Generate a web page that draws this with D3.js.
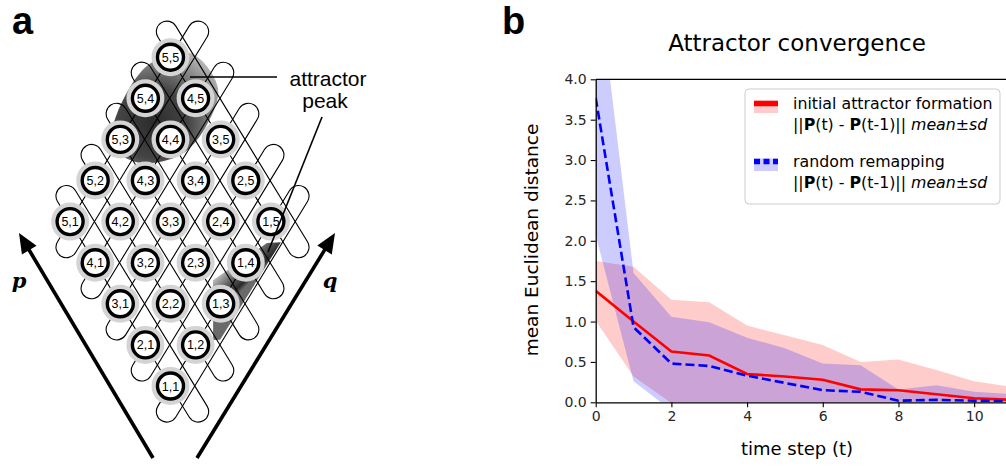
<!DOCTYPE html>
<html><head><meta charset="utf-8">
<script src="https://cdn.jsdelivr.net/npm/d3@7"></script>
<style>
  body { margin: 0; background: #fff; }
  svg { display: block; }
</style>
</head><body>
<svg id="fig" width="1006" height="466"></svg>
<script>
// ---------- panel a: place-field lattice ----------
const pIndex = [1, 2, 3, 4, 5];
const qIndex = [1, 2, 3, 4, 5];
// shaded regions given as outlines in (p, q) lattice coordinates
const peakRegion  = [[5.36, 4.43], [4.66, 5.44], [3.68, 5.57], [3.45, 4.83], [3.62, 4.0], [4.32, 3.11], [4.96, 2.79], [5.29, 2.99]];
const ridgeRegion = [[0.82, 4.66], [0.55, 4.95], [0.575, 2.55], [0.71, 2.41], [1.44, 3.13]];

// ---------- panel b: convergence curves ----------
const timeSteps     = [0, 1, 2, 3, 4, 5, 6, 7, 8, 9, 10, 11];
const formationMean = [1.38, 1.00, 0.63, 0.58, 0.35, 0.32, 0.28, 0.16, 0.15, 0.10, 0.05, 0.03];
const formationSd   = [0.37, 0.68, 0.64, 0.66, 0.60, 0.51, 0.43, 0.34, 0.38, 0.30, 0.21, 0.16];
const remapMean     = [3.77, 0.93, 0.48, 0.45, 0.33, 0.24, 0.15, 0.13, 0.02, 0.03, 0.02, 0.01];
const remapSd       = [1.70, 0.67, 0.58, 0.54, 0.47, 0.43, 0.33, 0.33, 0.14, 0.18, 0.11, 0.09];
const xTicks = [0, 2, 4, 6, 8, 10];
const yTicks = [0, 0.5, 1, 1.5, 2, 2.5, 3, 3.5, 4];

const svg = d3.select('#fig');
svg.append('rect').attr('width', 1006).attr('height', 466).attr('fill', '#fff');
const defs = svg.append('defs');

// =================== panel a ===================
const A = svg.append('g');
const latX = d3.scaleLinear().domain([-4, 4]).range([70.1, 270.9]);  // q - p
const latY = d3.scaleLinear().domain([2, 10]).range([386, 57.2]);    // p + q
const at = (p, q) => [latX(q - p), latY(p + q)];

// gradients for the shaded regions (placed in lattice coordinates)
const peakCentre = at(4.55, 3.85);
const rg = defs.append('radialGradient').attr('id', 'peakShade').attr('gradientUnits', 'userSpaceOnUse')
  .attr('cx', peakCentre[0]).attr('cy', peakCentre[1]).attr('r', 78);
rg.append('stop').attr('offset', 0).attr('stop-color', '#2c2c2c');
rg.append('stop').attr('offset', 0.45).attr('stop-color', '#444');
rg.append('stop').attr('offset', 0.8).attr('stop-color', '#8a8a8a');
rg.append('stop').attr('offset', 1).attr('stop-color', '#b4b4b4');
const ridgeFrom = at(1.35, 3.6), ridgeTo = at(0.7, 3.75);
const lg = defs.append('linearGradient').attr('id', 'ridgeShade').attr('gradientUnits', 'userSpaceOnUse')
  .attr('x1', ridgeFrom[0]).attr('y1', ridgeFrom[1]).attr('x2', ridgeTo[0]).attr('y2', ridgeTo[1]);
lg.append('stop').attr('offset', 0).attr('stop-color', '#c8c8c8');
lg.append('stop').attr('offset', 0.5).attr('stop-color', '#5e5e5e');
lg.append('stop').attr('offset', 0.85).attr('stop-color', '#2a2a2a');
lg.append('stop').attr('offset', 1).attr('stop-color', '#6a6a6a');

const regionLine = d3.line().x(d => at(d[0], d[1])[0]).y(d => at(d[0], d[1])[1]);
A.append('path').attr('d', regionLine.curve(d3.curveCatmullRomClosed.alpha(0.5))(peakRegion))
  .attr('fill', 'url(#peakShade)');
A.append('path').attr('d', regionLine.curve(d3.curveLinearClosed)(ridgeRegion))
  .attr('fill', 'url(#ridgeShade)');

// elongated loops along every lattice row, all set a little to the right
const loopHalf = 10.5, loopExt = 30, loopShiftX = 12;
function loopPath(a, b) {
  const dx = b[0] - a[0], dy = b[1] - a[1], L = Math.hypot(dx, dy);
  const ux = dx / L, uy = dy / L;
  const nx = -uy, ny = ux;
  const s = [a[0] - ux * loopExt + loopShiftX, a[1] - uy * loopExt];
  const e = [b[0] + ux * loopExt + loopShiftX, b[1] + uy * loopExt];
  const r = loopHalf;
  const sweep = (nx * uy - ny * ux) > 0 ? 1 : 0;
  return `M${s[0] + nx * r},${s[1] + ny * r}L${e[0] + nx * r},${e[1] + ny * r}` +
    `A${r},${r} 0 0 ${sweep} ${e[0] - nx * r},${e[1] - ny * r}` +
    `L${s[0] - nx * r},${s[1] - ny * r}` +
    `A${r},${r} 0 0 ${sweep} ${s[0] + nx * r},${s[1] + ny * r}Z`;
}
const rows = [];
pIndex.forEach(p => rows.push([at(p, qIndex[0]), at(p, qIndex[qIndex.length - 1])]));
qIndex.forEach(q => rows.push([at(pIndex[0], q), at(pIndex[pIndex.length - 1], q)]));
A.append('g').selectAll('path').data(rows).join('path')
  .attr('d', d => loopPath(d[0], d[1]))
  .attr('fill', 'none').attr('stroke', '#000').attr('stroke-width', 1.1);

// nodes
const nodes = [];
pIndex.forEach(p => qIndex.forEach(q => nodes.push({ p, q })));
const ng = A.append('g').selectAll('g').data(nodes).join('g')
  .attr('transform', d => `translate(${at(d.p, d.q)})`);
ng.append('circle').attr('r', 19).attr('fill', '#d4d4d4');
ng.append('circle').attr('r', 13).attr('fill', '#fff').attr('stroke', '#000').attr('stroke-width', 3.4);
ng.append('text').text(d => `${d.p},${d.q}`)
  .attr('text-anchor', 'middle').attr('dy', '0.36em')
  .attr('font-family', 'Liberation Sans, Arial, sans-serif').attr('font-size', 12.5)
  .attr('fill', '#000');

// annotation
const annoFont = 'Liberation Sans, Arial, sans-serif';
A.append('line').attr('x1', 190).attr('y1', 77).attr('x2', 277).attr('y2', 77)
  .attr('stroke', '#000').attr('stroke-width', 1.6);
A.append('line').attr('x1', 322).attr('y1', 117).attr('x2', 268).attr('y2', 252)
  .attr('stroke', '#000').attr('stroke-width', 1.6);
A.append('text').text('attractor').attr('x', 328).attr('y', 86).attr('text-anchor', 'middle')
  .attr('font-family', annoFont).attr('font-size', 21);
A.append('text').text('peak').attr('x', 325).attr('y', 108).attr('text-anchor', 'middle')
  .attr('font-family', annoFont).attr('font-size', 21);

// axis arrows p and q
function arrow(x1, y1, x2, y2) {
  const dx = x2 - x1, dy = y2 - y1, L = Math.hypot(dx, dy);
  const ux = dx / L, uy = dy / L, head = 20, half = 8.5;
  const bx = x2 - ux * head, by = y2 - uy * head;
  A.append('line').attr('x1', x1).attr('y1', y1).attr('x2', bx + ux * 2).attr('y2', by + uy * 2)
    .attr('stroke', '#000').attr('stroke-width', 3.6);
  A.append('path').attr('d', `M${x2},${y2}L${bx - uy * half},${by + ux * half}L${bx + uy * half},${by - ux * half}Z`)
    .attr('fill', '#000');
}
arrow(153, 458, 19, 233);
arrow(197, 458, 335, 233);
A.append('text').text('p').attr('x', 19).attr('y', 288).attr('text-anchor', 'middle')
  .attr('font-family', 'DejaVu Serif, serif').attr('font-style', 'italic').attr('font-weight', 'bold')
  .attr('font-size', 21);
A.append('text').text('q').attr('x', 330).attr('y', 288).attr('text-anchor', 'middle')
  .attr('font-family', 'DejaVu Serif, serif').attr('font-style', 'italic').attr('font-weight', 'bold')
  .attr('font-size', 21);

// panel letters
svg.append('text').text('a').attr('x', 12).attr('y', 34)
  .attr('font-family', 'Liberation Sans, Arial, sans-serif').attr('font-weight', 'bold').attr('font-size', 38);
svg.append('text').text('b').attr('x', 502).attr('y', 34)
  .attr('font-family', 'Liberation Sans, Arial, sans-serif').attr('font-weight', 'bold').attr('font-size', 38);

// =================== panel b ===================
const B = svg.append('g');
const font = 'DejaVu Sans, sans-serif';
const x = d3.scaleLinear().domain([0, 11]).range([595.7, 1012]);
const y = d3.scaleLinear().domain([0, 4]).range([402.3, 79.3]);

defs.append('clipPath').attr('id', 'plotClip').append('rect')
  .attr('x', x(0)).attr('y', y(4)).attr('width', x(11) - x(0)).attr('height', y(0) - y(4));
const plot = B.append('g').attr('clip-path', 'url(#plotClip)');

const band = (mean, sd) => d3.area()
  .x((d, i) => x(timeSteps[i]))
  .y0((d, i) => y(mean[i] - sd[i]))
  .y1((d, i) => y(mean[i] + sd[i]))(timeSteps);
const meanLine = mean => d3.line().x((d, i) => x(timeSteps[i])).y((d, i) => y(mean[i]))(timeSteps);

plot.append('path').attr('d', band(formationMean, formationSd)).attr('fill', 'red').attr('fill-opacity', 0.2);
plot.append('path').attr('d', band(remapMean, remapSd)).attr('fill', 'blue').attr('fill-opacity', 0.2);
plot.append('path').attr('d', meanLine(formationMean)).attr('fill', 'none')
  .attr('stroke', 'red').attr('stroke-width', 2.6);
plot.append('path').attr('d', meanLine(remapMean)).attr('fill', 'none')
  .attr('stroke', 'blue').attr('stroke-width', 2.6).attr('stroke-dasharray', '9,4');

// axes
const xAxis = B.append('g').attr('transform', `translate(0,${y(0)})`)
  .call(d3.axisBottom(x).tickValues(xTicks).tickFormat(d3.format('d')).tickSize(5).tickSizeOuter(0).tickPadding(4));
const yAxis = B.append('g').attr('transform', `translate(${x(0)},0)`)
  .call(d3.axisLeft(y).tickValues(yTicks).tickFormat(d3.format('.1f')).tickSize(5).tickSizeOuter(0).tickPadding(4));
[xAxis, yAxis].forEach(g => {
  g.selectAll('text').attr('font-family', font).attr('font-size', 14).attr('fill', '#262626');
  g.selectAll('line').attr('stroke', '#000').attr('stroke-width', 1.1);
  g.select('.domain').attr('stroke', '#000').attr('stroke-width', 1.3);
});
B.append('line').attr('x1', x(0)).attr('x2', x(11)).attr('y1', y(4)).attr('y2', y(4))
  .attr('stroke', '#000').attr('stroke-width', 1.3);

// titles
B.append('text').text('Attractor convergence').attr('x', 797).attr('y', 51).attr('text-anchor', 'middle')
  .attr('font-family', font).attr('font-size', 23);
B.append('text').text('time step (t)').attr('x', 797).attr('y', 455).attr('text-anchor', 'middle')
  .attr('font-family', font).attr('font-size', 18);
B.append('text').text('mean Euclidean distance').attr('text-anchor', 'middle')
  .attr('transform', 'translate(538,240) rotate(-90)')
  .attr('font-family', font).attr('font-size', 18.5);

// legend
const leg = B.append('g');
leg.append('rect').attr('x', 745).attr('y', 89).attr('width', 255).attr('height', 115).attr('rx', 4)
  .attr('fill', '#fff').attr('fill-opacity', 0.8).attr('stroke', '#cccccc').attr('stroke-width', 1);
const entries = [
  { label: 'initial attractor formation', color: 'red', dash: null, top: 100.5 },
  { label: 'random remapping', color: 'blue', dash: '6,3.5', top: 158.5 }
];
entries.forEach(e => {
  leg.append('rect').attr('x', 754).attr('y', e.top).attr('width', 24).attr('height', 12.5)
    .attr('fill', e.color).attr('fill-opacity', 0.2);
  leg.append('line').attr('x1', 754).attr('x2', 778).attr('y1', e.top + 3).attr('y2', e.top + 3)
    .attr('stroke', e.color).attr('stroke-width', 5.5).attr('stroke-dasharray', e.dash);
  leg.append('text').text(e.label).attr('x', 793).attr('y', e.top + 8.7)
    .attr('font-family', font).attr('font-size', 15.8);
  const t2 = leg.append('text').attr('x', 793).attr('y', e.top + 29.5)
    .attr('font-family', font).attr('font-size', 15.8);
  t2.append('tspan').text('||');
  t2.append('tspan').text('P').attr('font-weight', 'bold');
  t2.append('tspan').text('(t) - ');
  t2.append('tspan').text('P').attr('font-weight', 'bold');
  t2.append('tspan').text('(t-1)|| ');
  t2.append('tspan').text('mean±sd').attr('font-style', 'italic');
});
</script>
</body></html>
